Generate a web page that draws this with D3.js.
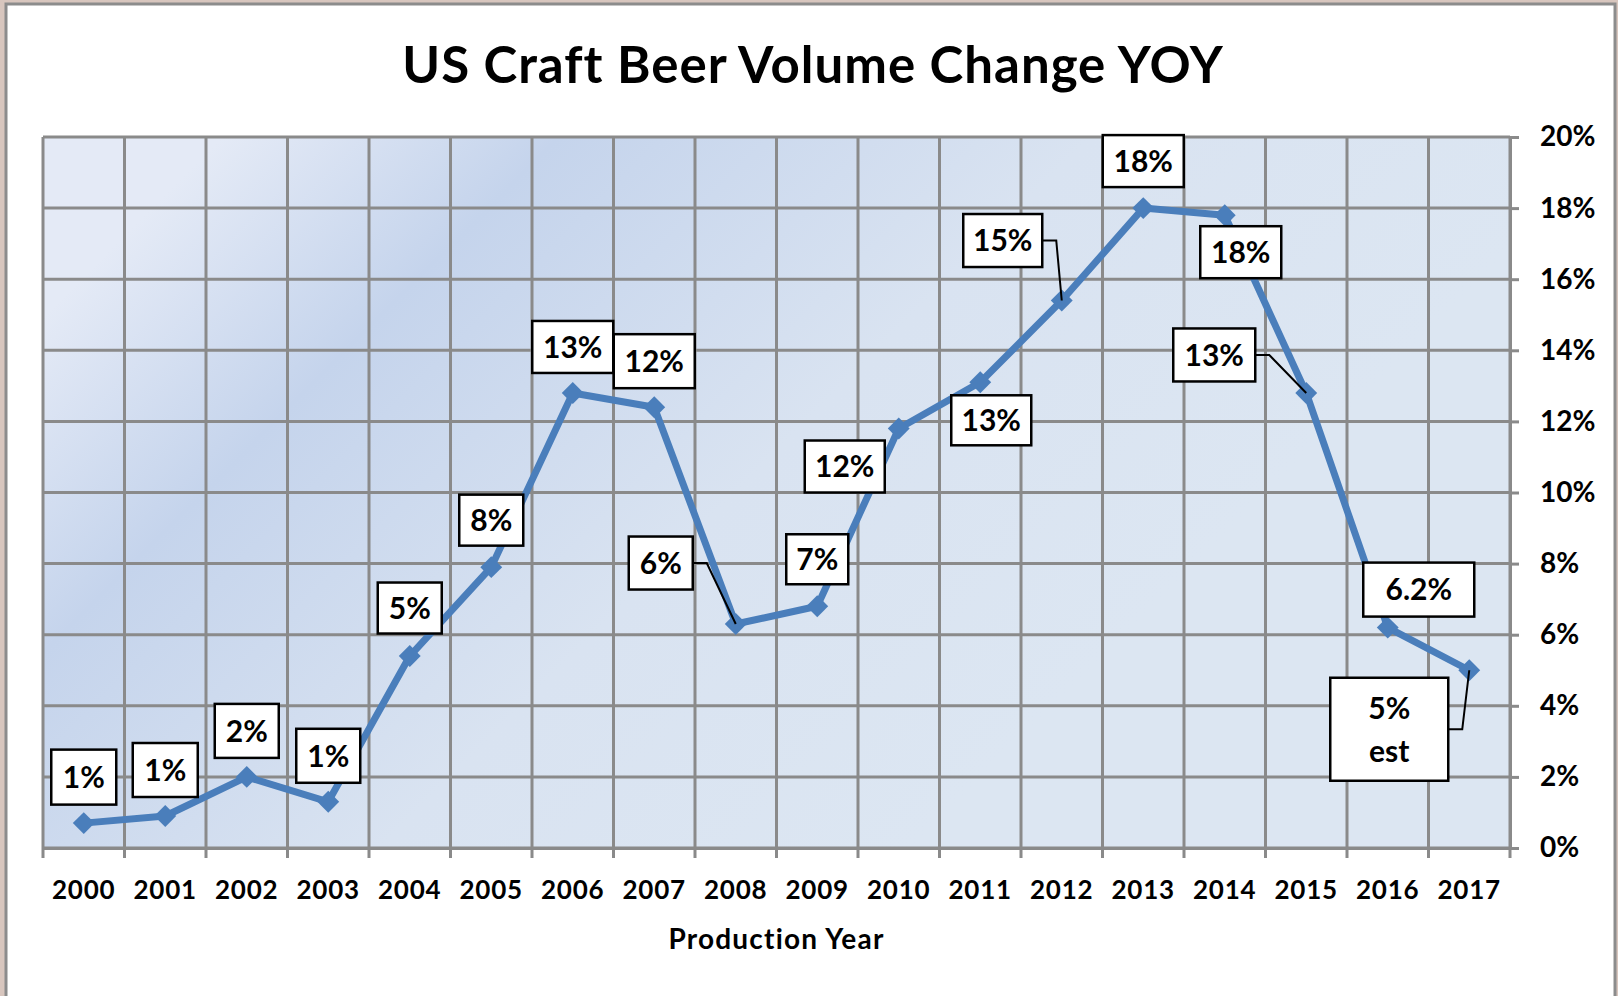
<!DOCTYPE html>
<html>
<head>
<meta charset="utf-8">
<script src="https://cdn.jsdelivr.net/npm/d3@7"></script>
<style>
  body { margin: 0; background: #d8c6be; }
  svg { display: block; font-family: Lato, "Open Sans", sans-serif; }
</style>
</head>
<body>
<svg id="chart" width="1618" height="996"></svg>
<script>
// values (percent change year over year)
let years = ["2000", "2001", "2002", "2003", "2004", "2005", "2006", "2007", "2008",
             "2009", "2010", "2011", "2012", "2013", "2014", "2015", "2016", "2017"];
let volumeChange = [0.7, 0.9, 2.0, 1.3, 5.4, 7.9, 12.8, 12.4, 6.3,
                    6.8, 11.8, 13.1, 15.4, 18.0, 17.8, 12.8, 6.2, 5.0];
let pointLabels = ["1%", "1%", "2%", "1%", "5%", "8%", "13%", "12%", "6%",
                   "7%", "12%", "13%", "15%", "18%", "18%", "13%", "6.2%", "5%|est"];
let yTicks = [0, 2, 4, 6, 8, 10, 12, 14, 16, 18, 20];

// where each label box sits relative to its point: [dx, dy, width, height, leader]
let labelLayout = [
  [0, -46, 65, 55], [0, -46, 65, 54], [0, -46, 64, 54], [0, -46, 64, 54],
  [0, -48, 64, 51], [0, -47, 64, 51], [0, -46, 81, 52], [0, -46, 81, 54],
  [-75, -61, 64, 53, true], [0, -47, 62, 50], [-54, 38, 80, 52], [11, 38, 80, 50],
  [-59, -60, 79, 53, true], [0, -47, 81, 52], [16, 37, 81, 52], [-92, -38, 82, 53, true],
  [31, -38, 111, 54], [-80, 59, 118, 103, true]
];

let svg = d3.select("#chart");
let margin = {top: 137, left: 43, right: 108, bottom: 148};
let width = 1618 - margin.left - margin.right,
    height = 996 - margin.top - margin.bottom;

// outer chart frame
svg.append("rect")
   .attr("x", 6).attr("y", 4)
   .attr("width", 1609).attr("height", 1010)
   .attr("fill", "#fff")
   .attr("stroke", "#8c8c8c")
   .attr("stroke-width", 3);

svg.append("text")
   .attr("x", 813).attr("y", 83)
   .attr("text-anchor", "middle")
   .attr("font-size", 51)
   .attr("font-weight", "bold")
   .attr("letter-spacing", 1)
   .text("US Craft Beer Volume Change YOY");

let defs = svg.append("defs");
let grad = defs.append("linearGradient")
   .attr("id", "plotFill")
   .attr("gradientUnits", "userSpaceOnUse")
   .attr("x1", margin.left).attr("y1", margin.top)
   .attr("x2", margin.left + 700).attr("y2", margin.top + 700);
[[0, "#e4eaf6"], [0.24, "#c5d4ec"], [0.62, "#d9e3f1"], [1, "#dce6f2"]].forEach(s => {
  grad.append("stop").attr("offset", s[0]).attr("stop-color", s[1]);
});

let g = svg.append("g")
           .attr("transform", `translate(${margin.left},${margin.top})`);

let xScale = d3.scaleBand().domain(years).range([0, width]).padding(0);
let yScale = d3.scaleLinear().domain([0, 20]).range([height, 0]);
let bw = xScale.bandwidth();

g.append("rect")
 .attr("width", width).attr("height", height)
 .attr("fill", "url(#plotFill)");

// grid
g.selectAll(".hgrid")
 .data(yTicks)
 .enter().append("line")
 .attr("x1", 0).attr("x2", width)
 .attr("y1", d => yScale(d)).attr("y2", d => yScale(d))
 .attr("stroke", "#8a8a8a").attr("stroke-width", 3);

g.selectAll(".vgrid")
 .data(d3.range(years.length + 1))
 .enter().append("line")
 .attr("x1", d => d * bw).attr("x2", d => d * bw)
 .attr("y1", 0).attr("y2", height + 10)
 .attr("stroke", "#8a8a8a").attr("stroke-width", 3);

// axes
let yAxis = g.append("g")
   .attr("transform", `translate(${width},0)`)
   .call(d3.axisRight(yScale).tickValues(yTicks).tickSize(9).tickPadding(21)
           .tickFormat(d => d + "%"));
yAxis.select(".domain").attr("stroke", "#8a8a8a").attr("stroke-width", 3);
yAxis.selectAll(".tick line").attr("stroke", "#8a8a8a").attr("stroke-width", 3);
yAxis.selectAll("text").attr("font-size", 28).attr("font-weight", "bold")
     .attr("fill", "#000").attr("font-family", "Lato, sans-serif");

let xAxis = g.append("g")
   .attr("transform", `translate(0,${height})`)
   .call(d3.axisBottom(xScale).tickSize(0).tickPadding(33));
xAxis.select(".domain").attr("stroke", "#8a8a8a").attr("stroke-width", 3);
xAxis.selectAll("text").attr("font-size", 26).attr("font-weight", "bold")
     .attr("letter-spacing", 0.8)
     .attr("fill", "#000").attr("font-family", "Lato, sans-serif");

g.append("text")
 .attr("x", width / 2).attr("y", height + 101)
 .attr("text-anchor", "middle")
 .attr("font-size", 28).attr("font-weight", "bold")
 .attr("letter-spacing", 1.2)
 .text("Production Year");

// series
let cx = (d, i) => xScale(years[i]) + bw / 2;
let line = d3.line()
   .x(cx)
   .y(d => yScale(d));

g.append("path")
 .datum(volumeChange)
 .attr("d", line)
 .attr("fill", "none")
 .attr("stroke", "#4a7ebb")
 .attr("stroke-width", 7)
 .attr("stroke-linejoin", "round");

g.selectAll(".marker")
 .data(volumeChange)
 .enter().append("path")
 .attr("d", d3.symbol().type(d3.symbolSquare).size(240))
 .attr("transform", (d, i) => `translate(${cx(d, i)},${yScale(d)}) rotate(45)`)
 .attr("fill", "#4a7ebb");

// leader lines
volumeChange.forEach((v, i) => {
  let [dx, dy, w, h, leader] = labelLayout[i];
  if (!leader) return;
  let px = cx(v, i), py = yScale(v);
  let bx = px + dx + w / 2, by = py + dy;
  g.append("path")
   .attr("d", d3.line()([[bx, by], [bx + 14, by], [px, py]]))
   .attr("fill", "none")
   .attr("stroke", "#000")
   .attr("stroke-width", 2);
});

// data labels
let labels = g.selectAll(".dlabel")
   .data(volumeChange)
   .enter().append("g")
   .attr("transform", (d, i) => `translate(${cx(d, i) + labelLayout[i][0]},${yScale(d) + labelLayout[i][1]})`);

labels.append("rect")
   .attr("x", (d, i) => -labelLayout[i][2] / 2)
   .attr("y", (d, i) => -labelLayout[i][3] / 2)
   .attr("width", (d, i) => labelLayout[i][2])
   .attr("height", (d, i) => labelLayout[i][3])
   .attr("fill", "#fff")
   .attr("stroke", "#000")
   .attr("stroke-width", 2.5);

labels.each(function(d, i) {
  let parts = pointLabels[i].split("|");
  let t = d3.select(this).append("text")
     .attr("text-anchor", "middle")
     .attr("font-size", 30)
     .attr("font-weight", "bold");
  parts.forEach((p, k) => {
    t.append("tspan")
     .attr("x", 0)
     .attr("y", (k - (parts.length - 1) / 2) * 43)
     .attr("dy", "0.36em")
     .text(p);
  });
});
</script>
</body>
</html>
